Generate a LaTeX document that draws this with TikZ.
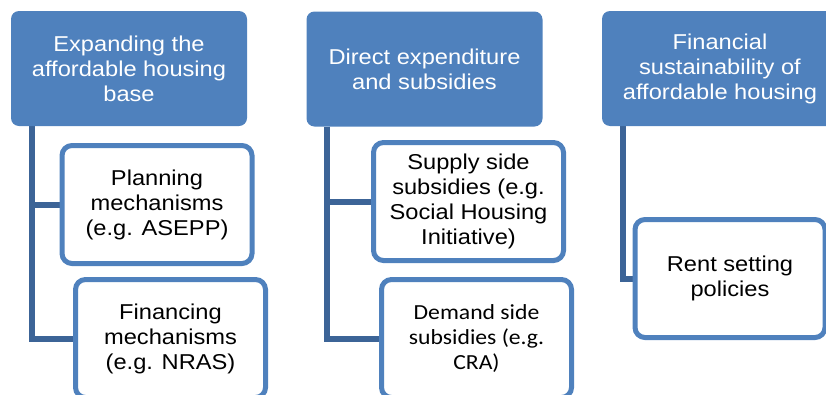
\documentclass[tikz,border=0pt]{standalone}
\usepackage{fontspec}
\setmainfont{Liberation Sans}[FakeStretch=1.1]
\newfontfamily\calibri{Carlito}[FakeStretch=1.1]
\usepackage{tikz}
\definecolor{accent}{HTML}{4F81BD}
\definecolor{linkblue}{HTML}{3C6497}
\tikzstyle{head}=[rectangle, rounded corners=8pt, fill=accent, text=white, align=center, minimum width=236pt, minimum height=115pt, inner sep=0pt, font=\fontsize{21.5}{25}\selectfont]
\tikzstyle{item}=[rectangle, rounded corners=10pt, draw=accent, line width=5pt, fill=white, text=black, align=center, minimum width=190pt, minimum height=118pt, inner sep=0pt, font=\fontsize{21.5}{25}\selectfont]
\tikzstyle{link}=[draw=linkblue, line width=6pt]
\pgfdeclarelayer{bg}
\pgfsetlayers{bg,main}

\begin{document}
\begin{tikzpicture}[x=1pt, y=-1pt]
    \useasboundingbox (0,0) rectangle (826,394);

    \node[head] (expand) at (129,68.5) {Expanding the\\affordable housing\\base};
    \node[head] (direct) at (424.5,69) {Direct expenditure\\and subsidies};
    \node[head] (sustain) at (720,68.5) {Financial\\sustainability of\\affordable housing};

    \node[item] (planning) at (157,204.5) {Planning\\mechanisms\\(e.g. ASEPP)};
    \node[item] (financing) at (170.5,338.5) {Financing\\mechanisms\\(e.g. NRAS)};
    \node[item] (supply) at (468.5,201.5) {Supply side\\subsidies (e.g.\\Social Housing\\Initiative)};
    \node[item, font=\calibri\fontsize{21.5}{25}\selectfont] (demand) at (476.5,338.5) {Demand side\\subsidies (e.g.\\CRA)};
    \node[item] (rent) at (730,278.5) {Rent setting\\policies};

    \begin{pgfonlayer}{bg}
      \draw[link] ([xshift=21pt]expand.south west) |- (planning.west);
      \draw[link] ([xshift=21pt]expand.south west) |- (financing.west);
      \draw[link] ([xshift=21pt]direct.south west) |- (supply.west);
      \draw[link] ([xshift=21pt]direct.south west) |- (demand.west);
      \draw[link] ([xshift=21pt]sustain.south west) |- (rent.west);
    \end{pgfonlayer}

  \end{tikzpicture}
\end{document}
